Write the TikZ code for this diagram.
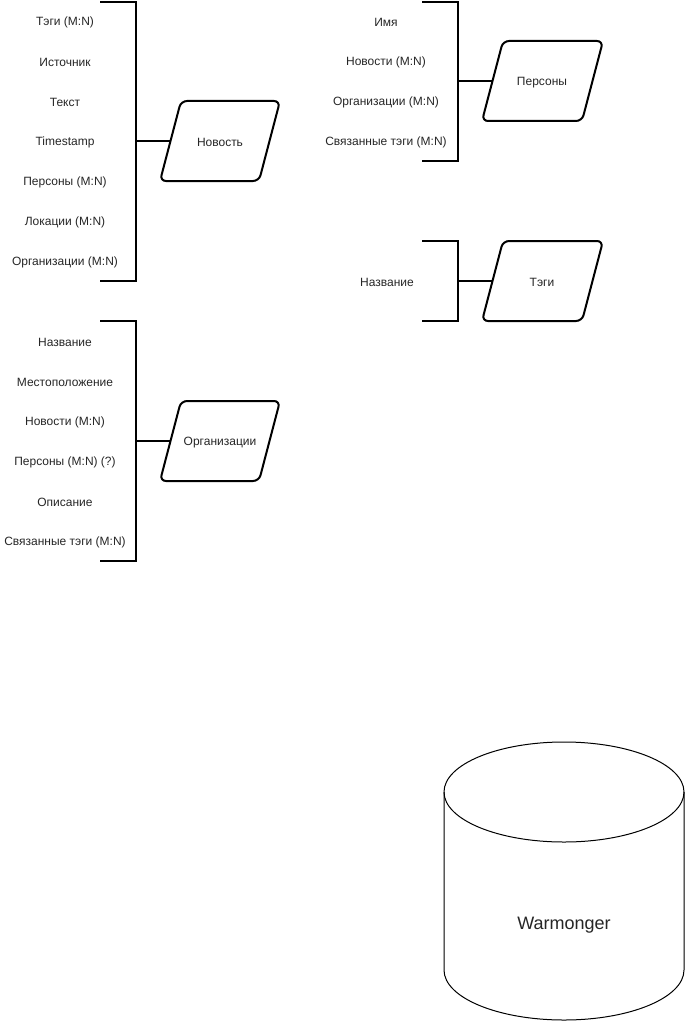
\documentclass[tikz,border=0pt]{standalone}
\usepackage{fontspec}
\setmainfont{Liberation Sans}
\begin{document}
\begin{tikzpicture}[x=1pt,y=-1pt,
  font=\fontsize{12}{14}\selectfont,
  lbl/.style={inner sep=0pt, anchor=center, text=black!85, yshift=-1.5pt},
  brk/.style={line width=2pt, line join=miter},
  para/.style={line width=2pt, rounded corners=6pt, fill=white},
  conn/.style={line width=2pt},
  cyl/.style={line width=1pt, fill=white}]
\useasboundingbox (0,0) rectangle (685,1022);

% ---------- Новость ----------
\draw[brk] (100,2) -- (136,2) -- (136,281) -- (100,281);
\coordinate (bNews) at (136,141);
\node[lbl] (n1) at (65,21) {Тэги (M:N)};
\node[lbl] (n2) at (65,61) {Источник};
\node[lbl] (n3) at (65,101) {Текст};
\node[lbl] (n4) at (65,141) {Timestamp};
\node[lbl] (n5) at (65,181) {Персоны (M:N)};
\node[lbl] (n6) at (65,221) {Локации (M:N)};
\node[lbl] (n7) at (65,261) {Организации (M:N)};
\draw[para] (160,181) -- (181,101) -- (280,101) -- (259,181) -- cycle;
\coordinate (newsL) at (170.5,141);
\node[lbl] (news) at (220,141) {Новость};
\draw[conn] (bNews) -- (newsL);

% ---------- Персоны ----------
\draw[brk] (422,2) -- (458,2) -- (458,161) -- (422,161);
\coordinate (bPers) at (458,81);
\node[lbl] (p1) at (386,21) {Имя};
\node[lbl] (p2) at (386,61) {Новости (M:N)};
\node[lbl] (p3) at (386,101) {Организации (M:N)};
\node[lbl] (p4) at (386,141) {Связанные тэги (M:N)};
\draw[para] (482,121) -- (503,41) -- (603,41) -- (582,121) -- cycle;
\coordinate (persL) at (492.5,81);
\node[lbl] (pers) at (542,81) {Персоны};
\draw[conn] (bPers) -- (persL);

% ---------- Тэги ----------
\draw[brk] (422,241) -- (458,241) -- (458,321) -- (422,321);
\coordinate (bTags) at (458,281);
\node[lbl] (t1) at (387,281) {Название};
\draw[para] (482,321) -- (503,241) -- (603,241) -- (582,321) -- cycle;
\coordinate (tagsL) at (492.5,281);
\node[lbl] (tags) at (542,281) {Тэги};
\draw[conn] (bTags) -- (tagsL);

% ---------- Организации ----------
\draw[brk] (100,321) -- (136,321) -- (136,561) -- (100,561);
\coordinate (bOrg) at (136,441);
\node[lbl] (o1) at (65,341) {Название};
\node[lbl] (o2) at (65,381) {Местоположение};
\node[lbl] (o3) at (65,421) {Новости (M:N)};
\node[lbl] (o4) at (65,461) {Персоны (M:N) (?)};
\node[lbl] (o5) at (65,501) {Описание};
\node[lbl] (o6) at (65,541) {Связанные тэги (M:N)};
\draw[para] (160,481) -- (181,401) -- (280,401) -- (259,481) -- cycle;
\coordinate (orgL) at (170.5,441);
\node[lbl] (org) at (220,441) {Организации};
\draw[conn] (bOrg) -- (orgL);

% ---------- Warmonger ----------
\draw[cyl] (444,792) -- (444,970) arc[start angle=180, end angle=0, x radius=120, y radius=50] -- (684,792);
\draw[line width=1pt] (564,792) ellipse[x radius=120, y radius=50];
\node[lbl, font=\fontsize{18}{21}\selectfont] (db) at (564,924) {Warmonger};
\end{tikzpicture}
\end{document}
